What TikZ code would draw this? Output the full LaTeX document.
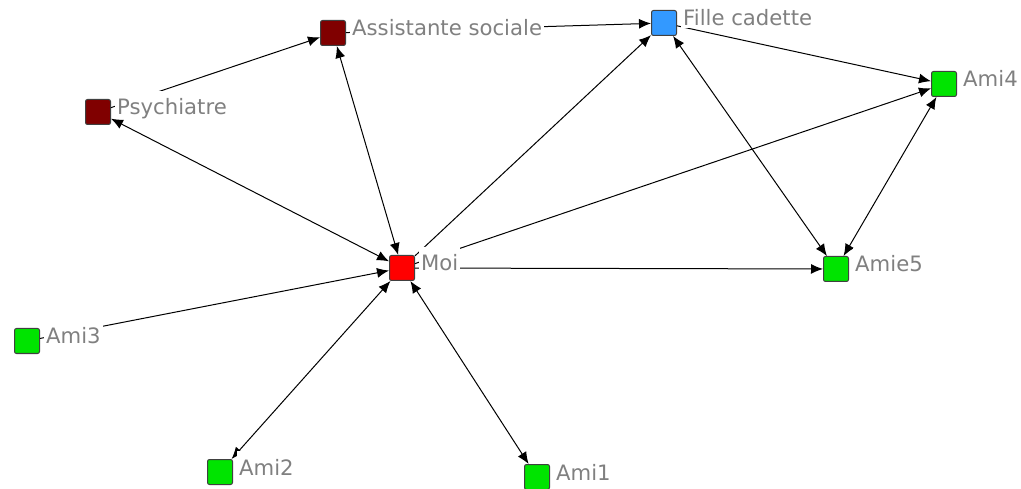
\documentclass[tikz,border=0pt]{standalone}
\usepackage{fontspec}
\setmainfont{DejaVu Sans}
\usetikzlibrary{arrows.meta}
\definecolor{darkred}{RGB}{128,0,0}
\definecolor{fblue}{RGB}{51,153,255}
\definecolor{mred}{RGB}{255,0,0}
\definecolor{fgreen}{RGB}{0,228,0}
\definecolor{labelgray}{RGB}{128,128,128}
\begin{document}
\begin{tikzpicture}[x=1pt,y=-1pt,
  sq/.style={rectangle, minimum size=25pt, inner sep=0pt, rounded corners=2pt, line width=1pt, draw=black!75, fill=#1},
  lbl/.style={anchor=base west, fill=white, inner xsep=2pt, inner ysep=0pt, text height=24pt, text depth=2pt, text=labelgray, font=\fontsize{21.2}{21.2}\selectfont},
  ed/.style={line width=1pt, black},
  one/.style={ed, -{Latex[length=12pt,width=10pt]}},
  two/.style={ed, {Latex[length=12pt,width=10pt]}-{Latex[length=12pt,width=10pt]}}]
\useasboundingbox (0,0) rectangle (1021,489);
% squares
\node[sq=darkred] (psy) at (98,112) {};
\node[sq=darkred] (ass) at (333,33) {};
\node[sq=fblue] (fil) at (664,23) {};
\node[sq=fgreen] (ami4) at (944,84) {};
\node[sq=mred] (moi) at (402,268) {};
\node[sq=fgreen] (amie5) at (836,269) {};
\node[sq=fgreen] (ami3) at (27,341) {};
\node[sq=fgreen] (ami2) at (220,472) {};
\node[sq=fgreen] (ami1) at (537,477) {};
% edges
\draw[one] (psy) -- (ass);
\draw[one] (ass) -- (fil);
\draw[two] (ass) -- (moi);
\draw[two] (psy) -- (moi);
\draw[one] (moi) -- (fil);
\draw[two] (fil) -- (amie5);
\draw[one] (fil) -- (ami4);
\draw[one] (moi) -- (ami4);
\draw[two] (ami4) -- (amie5);
\draw[one] (moi) -- (amie5);
\draw[one] (ami3) -- (moi);
\draw[two] (ami2) -- (moi);
\draw[two] (ami1) -- (moi);
% labels
\node[lbl] (lpsy) at (115,115) {Psychiatre};
\node[lbl] (lass) at (350,36) {Assistante sociale};
\node[lbl] (lfil) at (681,26) {Fille cadette};
\node[lbl] (lami4) at (961,87) {Ami4};
\node[lbl] (lmoi) at (419,271) {Moi};
\node[lbl] (lamie5) at (853,272) {Amie5};
\node[lbl] (lami3) at (44,344) {Ami3};
\node[lbl] (lami2) at (237,475) {Ami2};
\node[lbl] (lami1) at (554,480) {Ami1};
\end{tikzpicture}
\end{document}
